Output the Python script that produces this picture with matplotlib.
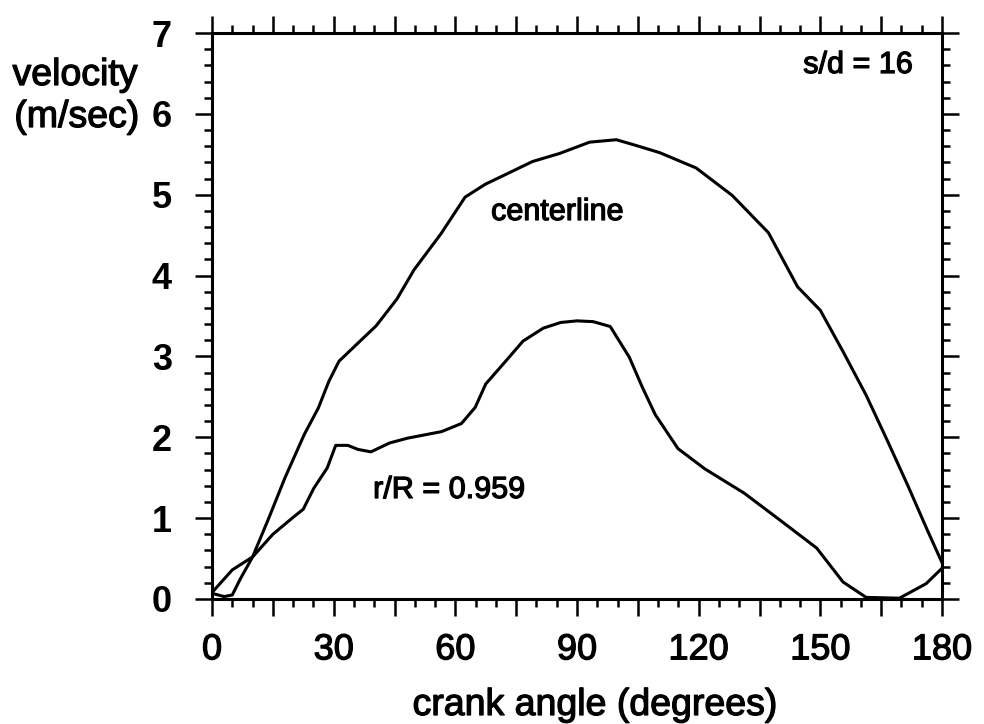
import matplotlib
matplotlib.use("Agg")
import matplotlib.pyplot as plt
import matplotlib.patheffects as pe
from matplotlib.ticker import MultipleLocator, FuncFormatter

plt.rcParams['font.family'] = ['Liberation Sans', 'DejaVu Sans']

# crank angle (degrees) and velocity (m/sec)
center_x = [0, 3, 5, 7, 10, 14, 18, 22.8, 26.2, 28.8, 31.3, 33.8, 40.5, 45.6, 49.8,
            56.5, 62.4, 67.4, 72.4, 79.0, 85.7, 93.1, 99.7, 104.5, 110.4, 119.4,
            128.3, 137.2, 144.4, 150.0, 155.6, 161.3, 166.7, 171.6, 176.4, 180]
center_y = [0.07, 0.03, 0.05, 0.25, 0.52, 1.0, 1.5, 2.04, 2.36, 2.69, 2.94, 3.06, 3.38,
            3.71, 4.07, 4.52, 4.97, 5.13, 5.25, 5.41, 5.51, 5.65, 5.68, 5.61, 5.52,
            5.33, 4.99, 4.53, 3.86, 3.57, 3.06, 2.52, 1.94, 1.40, 0.85, 0.45]

wall_x = [0, 5, 10, 15, 20, 22.5, 25.1, 28.4, 30.5, 33.5, 36, 39.2, 43.8, 48.3, 56.6,
          61.5, 64.9, 67.5, 71.7, 76.7, 81.7, 86, 90, 94, 98.2, 102.9, 106.1, 109.3,
          114.9, 121.5, 131.2, 140.2, 149.1, 155.6, 161.3, 169.5, 176.1, 180]
wall_y = [0.08, 0.36, 0.52, 0.80, 1.01, 1.11, 1.37, 1.62, 1.90, 1.90, 1.85, 1.82, 1.93,
          1.99, 2.07, 2.17, 2.37, 2.66, 2.90, 3.19, 3.35, 3.42, 3.44, 3.43, 3.37, 2.99,
          2.62, 2.28, 1.86, 1.61, 1.31, 0.97, 0.63, 0.21, 0.02, 0.01, 0.19, 0.38]

x_tick_labels = ['0', '30', '60', '90', '120', '150', '180']
y_tick_labels = ['0', '1', '2', '3', '4', '5', '6', '7']

W, H = 984, 724
fig = plt.figure(figsize=(W / 100, H / 100), dpi=100)
fig.patch.set_facecolor('white')
ax = fig.add_axes([212 / W, 1 - 599 / H, (942 - 212) / W, (599 - 33) / H])

ax.plot(center_x, center_y, color='black', lw=2.2, solid_joinstyle='round')
ax.plot(wall_x, wall_y, color='black', lw=2.2, solid_joinstyle='round')

ax.set_xlim(0, 180)
ax.set_ylim(0, 7)

ax.xaxis.set_major_locator(MultipleLocator(15))
ax.xaxis.set_minor_locator(MultipleLocator(5))
ax.yaxis.set_major_locator(MultipleLocator(1))
ax.yaxis.set_minor_locator(MultipleLocator(0.2))

def xfmt(v, pos):
    s = str(int(round(v)))
    return s if s in x_tick_labels and int(round(v)) % 30 == 0 else ''

def yfmt(v, pos):
    s = str(int(round(v)))
    return s if s in y_tick_labels else ''

ax.xaxis.set_major_formatter(FuncFormatter(xfmt))
ax.yaxis.set_major_formatter(FuncFormatter(yfmt))

ax.tick_params(which='both', direction='out', top=True, right=True,
               labeltop=False, labelright=False, width=1.8, color='black')
ax.tick_params(which='major', length=12)
ax.tick_params(which='minor', length=6)
ax.tick_params(axis='x', which='major', labelsize=26, pad=12)
ax.tick_params(axis='y', which='major', labelsize=26, pad=17)
thick = [pe.withStroke(linewidth=0.9, foreground='black')]
for lab in ax.get_yticklabels():
    lab.set_fontweight('bold')
for lab in ax.get_xticklabels():
    lab.set_path_effects(thick)

for sp in ax.spines.values():
    sp.set_linewidth(2.2)
    sp.set_color('black')

def ftext(px, py, s, size, ha='center', weight='normal'):
    t = fig.text(px / W, 1 - py / H, s, fontsize=size, ha=ha, va='baseline',
                 color='black', fontweight=weight)
    t.set_path_effects(thick)

ftext(75, 85, 'velocity', 27)
ftext(77, 127, '(m/sec)', 27)
ftext(595, 715, 'crank angle (degrees)', 27)
ftext(858, 73, 's/d = 16', 22)
ftext(557, 220, 'centerline', 22)
ftext(449, 498, 'r/R = 0.959', 22)

fig.savefig('out.png', dpi=100, facecolor='white')
